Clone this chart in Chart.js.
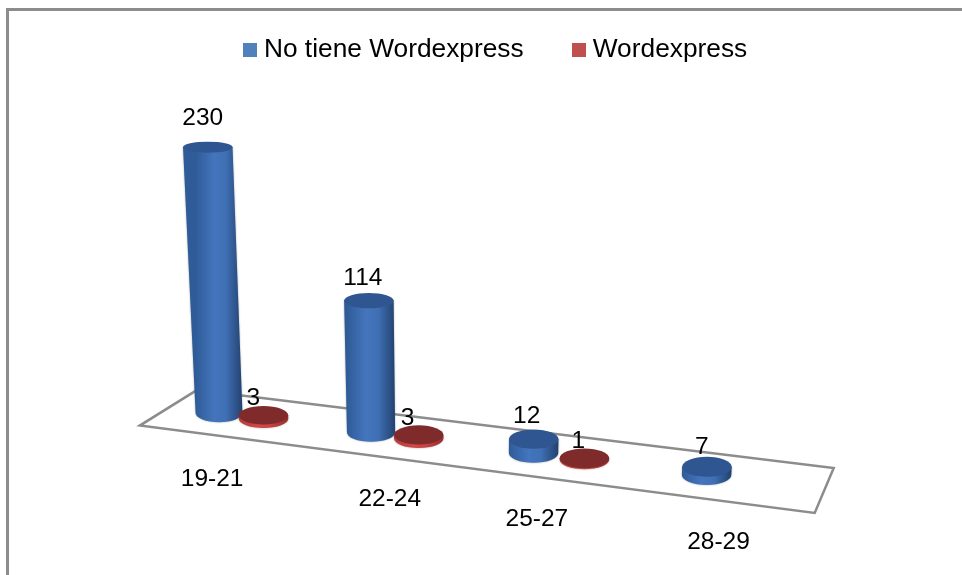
<!DOCTYPE html>
<html>
<head>
<meta charset="utf-8">
<style>
    html, body { margin: 0; background: #fff; }
    canvas { display: block; }
</style>
<script src="https://cdn.jsdelivr.net/npm/chart.js@4"></script>
</head>
<body>
<canvas id="chart" width="962" height="575"></canvas>
<script>
const categories = ['19-21', '22-24', '25-27', '28-29'];
const noWordexpress = [230, 114, 12, 7];
const wordexpress = [3, 3, 1, null];

// the picture is an office 3d chart, so bars go through a small perspective
const view = { x0: 168.3, x1: 143.1, x2: 5.25, baseY: 385.2, slope: 0.127, lean: 0.00017, leanAt: 468 };
const labelNudge = [[-29, 63], [-5, 64], [-22, 63], [-15, 64]];
const valueNudge = [[[-5, -29], [-6, -22], [-7, -23], [-5, -20]], [[-10, -17], [-11, -17], [-6, -17], [0, 0]]];
const shades = [
    { side: ['#2f5c98', '#4475bd', '#3f6fb4', '#22426f'], top: '#2f5690' },
    { side: ['#b83a3a', '#d04848', '#c84040', '#9a2e2e'], top: '#7f2b2b' }
];
const font = '24.5px "Liberation Sans", Arial, sans-serif';

function swatch(color) {
    const c = document.createElement('canvas');
    c.width = 14;
    c.height = 14;
    const g = c.getContext('2d');
    g.fillStyle = color;
    g.fillRect(0, 0, 14, 14);
    return c;
}

function project(chart, px) {
    const a = chart.chartArea;
    const t = (px - a.left) / (a.width / categories.length);
    const x = view.x0 + view.x1 * t + view.x2 * t * t;
    return { t, x, y: view.baseY + view.slope * x };
}

function drawPlane(ctx, chart) {
    const a = chart.chartArea;
    const l = project(chart, a.left);
    const r = project(chart, a.right);
    ctx.beginPath();
    ctx.moveTo(l.x + 28.5, l.y - 16.5);
    ctx.lineTo(r.x + 9, r.y - 22);
    ctx.lineTo(r.x - 10, r.y + 23);
    ctx.lineTo(l.x - 28.5, l.y + 19);
    ctx.closePath();
    ctx.strokeStyle = '#8c8c8c';
    ctx.lineWidth = 2.5;
    ctx.stroke();
}

function ry(y) {
    return 3.5 + 0.0139 * y;
}

function drawCylinder(ctx, el, base, shade) {
    const h = el.base - el.y;
    const topW = el.width / 2;
    const w = topW * (1 - 0.0002 * h);
    const topX = base.x + (base.x - view.leanAt) * h * view.lean;
    const topY = base.y - h;
    const g = ctx.createLinearGradient(base.x - w, 0, base.x + w, 0);
    shade.side.forEach((c, i) => g.addColorStop([0, 0.4, 0.65, 1][i], c));
    ctx.save();
    ctx.shadowColor = 'rgba(90,90,90,0.55)';
    ctx.shadowBlur = 2;
    ctx.beginPath();
    ctx.moveTo(topX - topW, topY);
    ctx.lineTo(base.x - w, base.y);
    ctx.ellipse(base.x, base.y, w, ry(base.y), 0, Math.PI, 0, true);
    ctx.lineTo(topX + topW, topY);
    ctx.closePath();
    ctx.fillStyle = g;
    ctx.fill();
    ctx.restore();
    ctx.beginPath();
    ctx.ellipse(topX, topY, topW, ry(topY), 0, 0, Math.PI * 2);
    ctx.fillStyle = shade.top;
    ctx.fill();
    return { x: topX, y: topY };
}

const cylinders = {
    id: 'cylinders',
    afterDatasetsDraw(chart) {
        const ctx = chart.ctx;
        const tops = [];
        ctx.save();
        // frame of the pasted picture
        ctx.strokeStyle = '#8c8c8c';
        ctx.lineWidth = 3;
        ctx.beginPath();
        ctx.moveTo(7.5, 575);
        ctx.lineTo(7.5, 9.5);
        ctx.lineTo(962, 9.5);
        ctx.stroke();
        drawPlane(ctx, chart);
        categories.forEach((cat, i) => {
            chart.data.datasets.forEach((ds, d) => {
                if (ds.data[i] === null) return;
                const el = chart.getDatasetMeta(d).data[i];
                const top = drawCylinder(ctx, el, project(chart, el.x), shades[d]);
                tops.push({ text: String(ds.data[i]), x: top.x + valueNudge[d][i][0], y: top.y + valueNudge[d][i][1] });
            });
        });
        ctx.fillStyle = '#000';
        ctx.font = font;
        ctx.textAlign = 'center';
        ctx.textBaseline = 'middle';
        tops.forEach(t => ctx.fillText(t.text, t.x, t.y));
        categories.forEach((cat, i) => {
            const p = project(chart, chart.scales.x.getPixelForValue(i));
            ctx.fillText(cat, p.x + labelNudge[i][0], p.y + labelNudge[i][1]);
        });
        ctx.restore();
    }
};

new Chart(document.getElementById('chart'), {
    type: 'bar',
    data: {
        labels: categories,
        datasets: [{
            label: 'No tiene Wordexpress',
            data: noWordexpress,
            backgroundColor: 'transparent',
            pointStyle: swatch('#4f81bd')
        }, {
            label: 'Wordexpress',
            data: wordexpress,
            backgroundColor: 'transparent',
            pointStyle: swatch('#c0504d')
        }]
    },
    options: {
        responsive: false,
        animation: false,
        layout: { padding: { left: 168, right: 134, top: -17, bottom: 155 } },
        datasets: { bar: { barPercentage: 1, categoryPercentage: 0.6 } },
        scales: {
            x: { display: false },
            y: { display: false, min: 0, max: 300 }
        },
        plugins: {
            tooltip: { enabled: false },
            legend: {
                position: 'top',
                labels: {
                    font: { family: '"Liberation Sans", Arial, sans-serif', size: 26.3 },
                    color: '#000',
                    padding: 54,
                    usePointStyle: true,
                    pointStyleWidth: 2,   // keeps the swatch close to its text
                    generateLabels: chart => chart.data.datasets.map((ds, i) => ({
                        text: ds.label,
                        pointStyle: ds.pointStyle,
                        datasetIndex: i,
                        fontColor: '#000'
                    }))
                }
            }
        }
    },
    plugins: [cylinders]
});
</script>
</body>
</html>
